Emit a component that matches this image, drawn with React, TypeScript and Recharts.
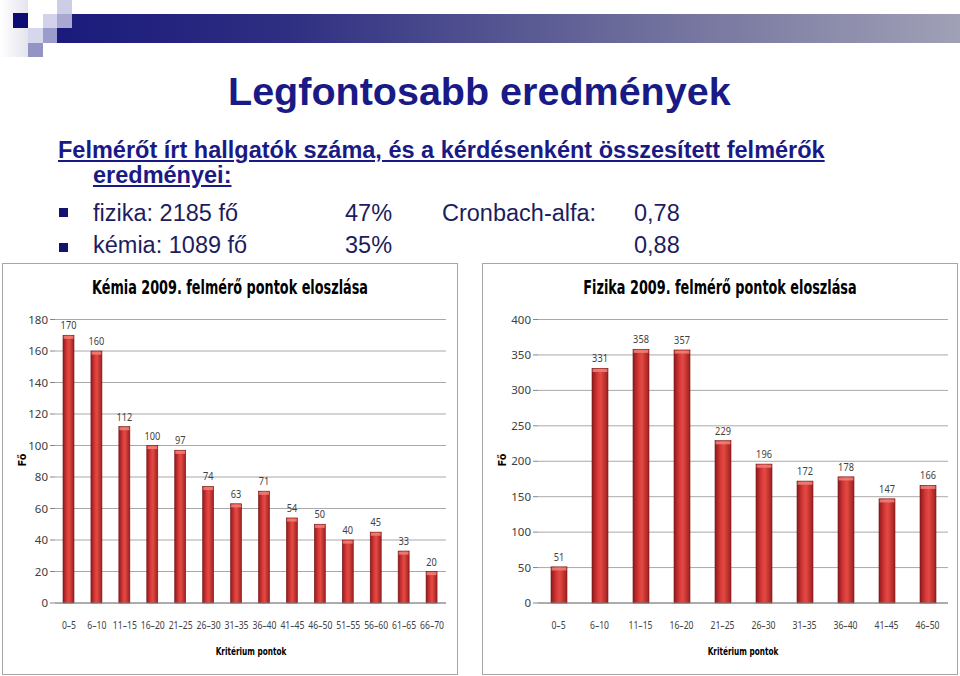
import { BarChart, Bar, XAxis, YAxis, CartesianGrid, LabelList } from "recharts"

const chemCategories = ["0–5", "6–10", "11–15", "16–20", "21–25", "26–30", "31–35", "36–40", "41–45", "46–50", "51–55", "56–60", "61–65", "66–70"]
const chemValues = [170, 160, 112, 100, 97, 74, 63, 71, 54, 50, 40, 45, 33, 20]
const chemTicks = [0, 20, 40, 60, 80, 100, 120, 140, 160, 180]

const physCategories = ["0–5", "6–10", "11–15", "16–20", "21–25", "26–30", "31–35", "36–40", "41–45", "46–50"]
const physValues = [51, 331, 358, 357, 229, 196, 172, 178, 147, 166]
const physTicks = [0, 50, 100, 150, 200, 250, 300, 350, 400]

const NAVY = "#1a1a86"
const TEXT = "#1d1d5e"
const CHART_FONT = "'DejaVu Sans Condensed', 'Liberation Sans', sans-serif"
const NUM_FONT = "'Noto Sans', 'Liberation Sans', sans-serif"

function CylinderBar(props: any) {
  const { x, y, width, height, gid } = props
  if (!height || height <= 0) return null
  return (
    <g>
      <rect x={x} y={y} width={width} height={height} fill={`url(#${gid})`} stroke="#7a1414" strokeWidth={0.6} />
      <rect x={x + 0.6} y={y + 0.6} width={width - 1.2} height={3} fill="#f2837a" opacity={0.85} />
    </g>
  )
}

// Calibri-like narrow tick text: Noto Sans squeezed horizontally
function XTick(props: any) {
  const { x, y, payload } = props
  return (
    <g transform={`translate(${x},${y})`}>
      <text transform="scale(0.77,1)" textAnchor="middle" dy={18.5} fontSize={11.2} fill="#404040" fontFamily={NUM_FONT}>
        {payload.value}
      </text>
    </g>
  )
}

function ValueLabel(props: any) {
  const { x, y, width, value } = props
  const cx = x + width / 2
  return (
    <g transform={`translate(${cx},${y - 6})`}>
      <text transform="scale(0.8,1)" textAnchor="middle" fontSize={11.5} fill="#404040" fontFamily={NUM_FONT}>
        {value}
      </text>
    </g>
  )
}

interface PanelProps {
  id: string
  title: string
  categories: string[]
  values: number[]
  ticks: number[]
  left: number
  width: number
  barSize: number
  leftMargin: number
  rightMargin: number
}

function ChartPanel({ id, title, categories, values, ticks, left, width, barSize, leftMargin, rightMargin }: PanelProps) {
  const data = categories.map((c, i) => ({ name: c, value: values[i] }))
  const max = ticks[ticks.length - 1]
  const plotCenter = leftMargin + 32 + (width - 2 - leftMargin - 32 - rightMargin) / 2
  return (
    <div
      style={{
        position: "absolute",
        left,
        top: 263,
        width,
        height: 412,
        border: "1px solid #a6a6a6",
        boxSizing: "border-box",
        background: "#fff",
      }}
    >
      <div
        style={{
          position: "absolute",
          left: 0,
          right: 0,
          top: 12,
          textAlign: "center",
          fontFamily: CHART_FONT,
          fontWeight: "bold",
          fontSize: 19,
          lineHeight: "22px",
          color: "#000",
          transform: "scaleX(0.75)",
          whiteSpace: "nowrap",
        }}
      >
        {title}
      </div>
      <div
        style={{
          position: "absolute",
          left: plotCenter - 100,
          width: 200,
          top: 381,
          textAlign: "center",
          fontFamily: CHART_FONT,
          fontWeight: "bold",
          fontSize: 11,
          lineHeight: "14px",
          color: "#000",
          transform: "scaleX(0.74)",
          whiteSpace: "nowrap",
        }}
      >
        Kritérium pontok
      </div>
      <div
        style={{
          position: "absolute",
          left: 8,
          top: 189,
          width: 24,
          textAlign: "center",
          fontFamily: CHART_FONT,
          fontWeight: "bold",
          fontSize: 11,
          lineHeight: "14px",
          color: "#000",
          transform: "rotate(-90deg)",
        }}
      >
        Fő
      </div>
      <div style={{ position: "absolute", left: 0, top: 0 }}>
        <BarChart
          width={width - 2}
          height={410}
          data={data}
          margin={{ top: 55.5, right: rightMargin, bottom: 41, left: leftMargin }}
          barSize={barSize}
        >
          <defs>
            <linearGradient id={id} x1="0" y1="0" x2="1" y2="0">
              <stop offset="0%" stopColor="#8e1a1a" />
              <stop offset="35%" stopColor="#d8393a" />
              <stop offset="55%" stopColor="#e44a42" />
              <stop offset="100%" stopColor="#9c2020" />
            </linearGradient>
          </defs>
          <CartesianGrid vertical={false} stroke="#939393" strokeWidth={0.8} />
          <XAxis dataKey="name" axisLine={{ stroke: "#868686" }} tickLine={false} interval={0} tick={<XTick />} />
          <YAxis
            domain={[0, max]}
            ticks={ticks}
            width={32}
            axisLine={false}
            tickLine={{ stroke: "#868686" }}
            tickSize={5}
            interval={0}
            tick={{ fontSize: 11.5, fill: "#404040", fontFamily: NUM_FONT }}
          />
          <Bar dataKey="value" isAnimationActive={false} shape={(p: any) => <CylinderBar {...p} gid={id} />}>
            <LabelList dataKey="value" content={<ValueLabel />} />
          </Bar>
        </BarChart>
      </div>
    </div>
  )
}

function Header() {
  const squares = [
    { x: 57, y: 0, w: 15, h: 14, c: "#cdcde6" },
    { x: 43, y: 14, w: 14, h: 14, c: "#d2d2ea" },
    { x: 28, y: 28, w: 15, h: 15, c: "#d6d6ec" },
    { x: 43, y: 28, w: 14, h: 15, c: "#9c9ccc" },
    { x: 28, y: 43, w: 15, h: 14, c: "#9494c4" },
  ]
  return (
    <>
      <div
        style={{
          position: "absolute",
          left: 0,
          top: 0,
          width: 28,
          height: 57,
          background: "linear-gradient(to right, #ffffff, #e4e4ee)",
        }}
      />
      <div
        style={{
          position: "absolute",
          left: 57,
          top: 14,
          width: 903,
          height: 29,
          background: "linear-gradient(to right, #1a1a7c 0%, #2e2e82 25%, #6e6e9c 65%, #a0a0b6 100%)",
        }}
      />
      <div style={{ position: "absolute", left: 57, top: 14, width: 15, height: 14, background: "#a8a8d0" }} />
      {squares.map((s, i) => (
        <div key={i} style={{ position: "absolute", left: s.x, top: s.y, width: s.w, height: s.h, background: s.c }} />
      ))}
      <div style={{ position: "absolute", left: 13, top: 13, width: 15, height: 15, background: "#0c0c72" }} />
    </>
  )
}

const textBase: React.CSSProperties = {
  position: "absolute",
  fontFamily: "'Liberation Sans', Arial, sans-serif",
  lineHeight: 1,
  whiteSpace: "nowrap",
}

export default function App() {
  return (
    <div
      style={{
        position: "absolute",
        left: 0,
        top: 0,
        width: 960,
        height: 676,
        background: "#fff",
        overflow: "hidden",
      }}
    >
      <Header />
      <div style={{ ...textBase, left: 228, top: 72, fontSize: 39.5, fontWeight: "bold", color: NAVY }}>
        Legfontosabb eredmények
      </div>
      <div style={{ ...textBase, left: 58, top: 138.5, fontSize: 23.5, fontWeight: "bold", color: NAVY, textDecoration: "underline" }}>
        Felmérőt írt hallgatók száma, és a kérdésenként összesített felmérők
      </div>
      <div style={{ ...textBase, left: 93, top: 163.5, fontSize: 23.5, fontWeight: "bold", color: NAVY, textDecoration: "underline" }}>
        eredményei:
      </div>
      <div style={{ position: "absolute", left: 59, top: 208, width: 9, height: 9, background: "#14146e" }} />
      <div style={{ position: "absolute", left: 59, top: 243, width: 9, height: 9, background: "#14146e" }} />
      <div style={{ ...textBase, left: 93, top: 202, fontSize: 23.5, color: TEXT }}>fizika: 2185 fő</div>
      <div style={{ ...textBase, left: 345, top: 202, fontSize: 23.5, color: TEXT }}>47%</div>
      <div style={{ ...textBase, left: 442, top: 202, fontSize: 23.5, color: TEXT }}>Cronbach-alfa:</div>
      <div style={{ ...textBase, left: 634, top: 202, fontSize: 23.5, color: TEXT }}>0,78</div>
      <div style={{ ...textBase, left: 93, top: 233.5, fontSize: 23.5, color: TEXT }}>kémia: 1089 fő</div>
      <div style={{ ...textBase, left: 345, top: 233.5, fontSize: 23.5, color: TEXT }}>35%</div>
      <div style={{ ...textBase, left: 634, top: 233.5, fontSize: 23.5, color: TEXT }}>0,88</div>

      <ChartPanel
        id="chemGrad"
        title="Kémia 2009. felmérő pontok eloszlása"
        categories={chemCategories}
        values={chemValues}
        ticks={chemTicks}
        left={2}
        width={456}
        barSize={11}
        leftMargin={20}
        rightMargin={11}
      />
      <ChartPanel
        id="physGrad"
        title="Fizika 2009. felmérő pontok eloszlása"
        categories={physCategories}
        values={physValues}
        ticks={physTicks}
        left={482}
        width={476}
        barSize={16}
        leftMargin={23}
        rightMargin={9}
      />
    </div>
  )
}
